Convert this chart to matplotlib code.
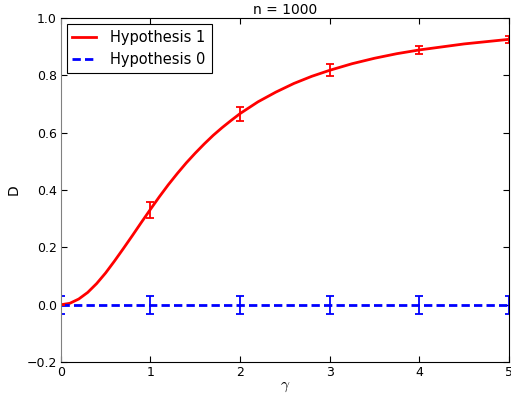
import matplotlib
matplotlib.use('Agg')
import matplotlib.pyplot as plt
import numpy as np

plt.rcParams['mathtext.fontset'] = 'cm'

# curve for hypothesis 1
gamma = [0.0, 0.1, 0.2, 0.3, 0.4, 0.5, 0.6, 0.7, 0.8, 0.9, 1.0,
         1.1, 1.2, 1.3, 1.4, 1.5, 1.6, 1.7, 1.8, 1.9, 2.0,
         2.2, 2.4, 2.6, 2.8, 3.0, 3.25, 3.5, 3.75, 4.0, 4.5, 5.0]
d_h1 = [0.0, 0.005, 0.020, 0.043, 0.074, 0.111, 0.153, 0.197, 0.242, 0.288, 0.333,
        0.377, 0.419, 0.458, 0.495, 0.529, 0.561, 0.591, 0.618, 0.643, 0.667,
        0.708, 0.742, 0.772, 0.797, 0.818, 0.841, 0.860, 0.876, 0.889, 0.910, 0.926]

# measured points with errors
g_pts = [0, 1, 2, 3, 4, 5]
h1_pts = [0.0, 0.330, 0.666, 0.819, 0.889, 0.926]
h1_err = [0.0, 0.029, 0.024, 0.020, 0.015, 0.012]
h0_pts = [0, 0, 0, 0, 0, 0]
h0_err = [0.032, 0.032, 0.032, 0.032, 0.032, 0.032]

fig = plt.figure(figsize=(5.11, 3.94), dpi=100)
ax = fig.add_axes([0.119, 0.081, 0.877, 0.873])

ax.plot(gamma, d_h1, '-', color='red', lw=2, label='Hypothesis 1')
ax.plot([g_pts[0], g_pts[-1]], [h0_pts[0], h0_pts[-1]], color='blue', lw=2,
        linestyle=(0, (3, 1.5)), label='Hypothesis 0')
ax.errorbar(g_pts, h1_pts, yerr=h1_err, fmt='none', ecolor='red', elinewidth=1.3,
            capsize=3, capthick=1.3)
ax.errorbar(g_pts, h0_pts, yerr=h0_err, fmt='none', ecolor='blue', elinewidth=1.3,
            capsize=3, capthick=1.3)

ax.set_xlim(0, 5)
ax.set_ylim(-0.2, 1.0)
ax.set_xticks(np.arange(0, 6, 1))
ax.set_yticks(np.arange(-0.2, 1.01, 0.2))
ax.set_yticklabels(['\u22120.2', '0.0', '0.2', '0.4', '0.6', '0.8', '1.0'])
ax.tick_params(direction='in', top=True, right=True, labelsize=9, length=4, pad=3)
ax.spines['left'].set_color('#808080')

ax.set_xlabel(r'$\gamma$', fontsize=11, labelpad=0)
ax.set_ylabel('D', fontsize=10, labelpad=4)
ax.set_title('n = 1000', fontsize=10, pad=3)

leg = ax.legend(loc='upper left', fontsize=10.5, fancybox=False, framealpha=1,
                edgecolor='black', handlelength=1.6, handletextpad=1.0,
                borderaxespad=0.4)
leg.get_frame().set_linewidth(0.8)

fig.savefig('out.png', dpi=100)
